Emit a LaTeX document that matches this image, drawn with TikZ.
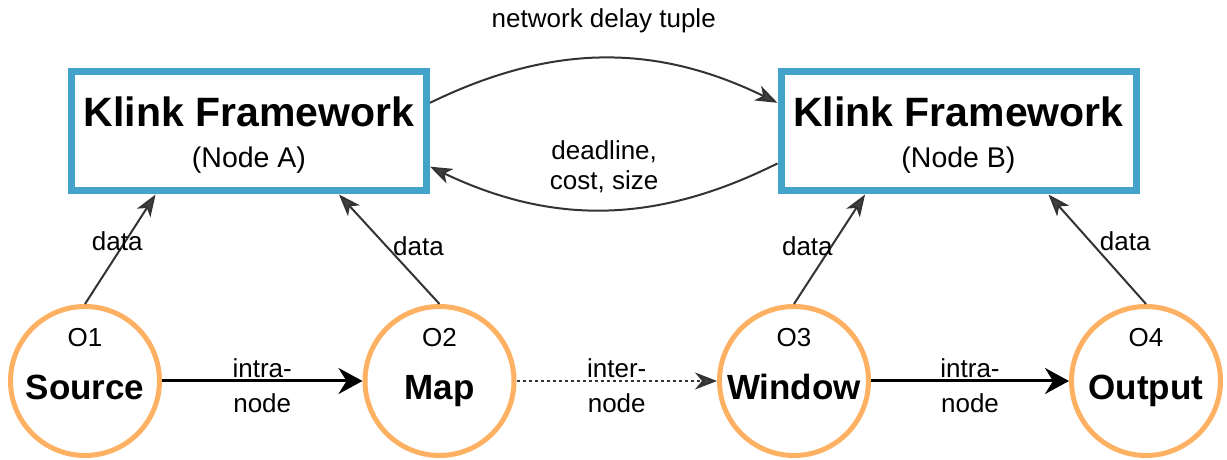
\documentclass[tikz,border=0pt]{standalone}
\usepackage{fontspec}
\setmainfont{Liberation Sans}
\usetikzlibrary{arrows.meta}

\definecolor{klinkblue}{RGB}{67,163,203}
\definecolor{oporange}{RGB}{255,177,99}
\definecolor{linkgrey}{RGB}{51,51,51}
\definecolor{tipgrey}{RGB}{64,64,64}

\tikzset{
  fwbox/.style={rectangle, draw=klinkblue, line width=7pt, minimum width=355pt, minimum height=119pt,
    inner sep=0pt, align=center, text height=76pt, text depth=3pt, font=\fontsize{28.5}{41}\selectfont},
  opnode/.style={circle, draw=oporange, line width=5pt, minimum size=149pt, inner sep=-20pt,
    align=center, text height=72pt, text depth=34pt, font=\fontsize{26}{53}\selectfont},
  greytip/.style={-{Stealth[length=22pt, width=16pt, inset=6pt, fill=tipgrey]}},
  blacktip/.style={-{Stealth[length=24pt, width=26pt, inset=8pt]}},
  datalink/.style={draw=linkgrey, line width=2pt, greytip},
  intralink/.style={draw=black, line width=3pt, blacktip},
  interlink/.style={draw=linkgrey, line width=2.5pt, dash pattern=on 3pt off 3pt,
    -{Stealth[length=22pt, width=17pt, inset=7pt, fill=tipgrey]}},
  linklabel/.style={inner sep=2pt, align=center, text=black, font=\fontsize{26}{30}\selectfont},
  flowlabel/.style={linklabel, yshift=-5pt, font=\fontsize{26}{35}\selectfont}
}

\begin{document}
\begin{tikzpicture}[x=1pt, y=1pt]
    \useasboundingbox (0, 0) rectangle (1227, 460);

    % Klink frameworks
    \node[fwbox] at (249, 328.5) (boxA) {{\fontsize{41}{41}\selectfont\bfseries Klink Framework}\\(Node A)};
    \node[fwbox] at (958.5, 328.5) (boxB) {{\fontsize{41}{41}\selectfont\bfseries Klink Framework}\\(Node B)};

    % Operators
    \node[opnode] at (85, 79) (o1) {O1\\{\fontsize{35}{53}\selectfont\bfseries Source}};
    \node[opnode] at (439.5, 79) (o2) {O2\\{\fontsize{35}{53}\selectfont\bfseries Map}};
    \node[opnode] at (794, 79) (o3) {O3\\{\fontsize{35}{53}\selectfont\bfseries Window}};
    \node[opnode] at (1146, 79) (o4) {O4\\{\fontsize{35}{53}\selectfont\bfseries Output}};

    % operator -> framework
    \draw[datalink] (o1.north) -- node[linklabel, pos=0.57, xshift=-8pt] {data} (boxA.214);
    \draw[datalink] (o2.north) -- node[linklabel, pos=0.53, right=4pt] {data} (boxA.325);
    \draw[datalink] (o3.north) -- node[linklabel, pos=0.53, left=-4pt] {data} (boxB.214);
    \draw[datalink] (o4.north) -- node[linklabel, pos=0.575, right=7pt] {data} (boxB.325);

    % between frameworks
    \draw[datalink] (boxA.9) to[bend left=26] node[linklabel, above=22pt] {network delay tuple} (boxB.171);
    \draw[datalink] (boxB.190) to[bend left=26] node[linklabel, above=14pt] {deadline,\\cost, size} (boxA.349);

    % operator chain
    \draw[intralink] (o1) -- node[flowlabel] {intra-\\node} (o2);
    \draw[interlink] (o2) -- node[flowlabel] {inter-\\node} (o3);
    \draw[intralink] (o3) -- node[flowlabel] {intra-\\node} (o4);

\end{tikzpicture}
\end{document}
